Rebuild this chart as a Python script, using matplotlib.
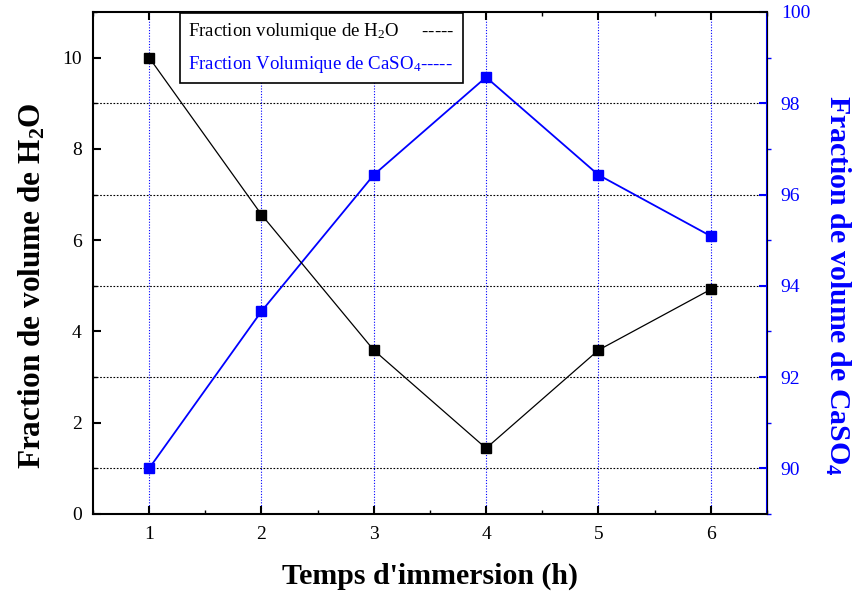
import matplotlib
matplotlib.use("Agg")
import matplotlib.pyplot as plt
from matplotlib.ticker import MultipleLocator

# data
hours = [1, 2, 3, 4, 5, 6]
h2o_frac = [10.0, 6.56, 3.59, 1.44, 3.59, 4.92]
caso4_frac = [90.0, 93.44, 96.43, 98.57, 96.43, 95.09]

plt.rcParams["font.family"] = ["Liberation Serif", "DejaVu Serif"]
plt.rcParams["mathtext.fontset"] = "custom"
plt.rcParams["mathtext.rm"] = "Liberation Serif"
plt.rcParams["mathtext.it"] = "Liberation Serif:italic"
plt.rcParams["mathtext.bf"] = "Liberation Serif:bold"

fig = plt.figure(figsize=(8.53, 5.98), dpi=100)
ax = fig.add_axes([0.109, 0.1405, 0.790, 0.8395])
ax2 = ax.twinx()

# vertical blue grid, horizontal black grid from right axis
for x in hours:
    ax.axvline(x, color="blue", linestyle=(0, (1, 1.5)), linewidth=0.8, zorder=0)
for y in [90, 92, 94, 96, 98]:
    ax2.axhline(y, color="black", linestyle=(0, (1.5, 1.5)), linewidth=0.8, zorder=0)

ax.plot(hours, h2o_frac, color="black", linewidth=0.9, marker="s",
        markersize=7, zorder=3)
ax2.plot(hours, caso4_frac, color="blue", linewidth=1.3, marker="s",
         markersize=7, zorder=3)

ax.set_xlim(0.5, 6.5)
ax.set_ylim(0, 11)
ax2.set_ylim(89, 100)

ax.xaxis.set_major_locator(MultipleLocator(1))
ax.xaxis.set_minor_locator(MultipleLocator(0.5))
ax.yaxis.set_major_locator(MultipleLocator(2))
ax.yaxis.set_minor_locator(MultipleLocator(1))
ax2.yaxis.set_major_locator(MultipleLocator(2))
ax2.yaxis.set_minor_locator(MultipleLocator(1))

ax.tick_params(axis="both", which="major", direction="in", length=6, width=1.5,
               labelsize=14, top=True, pad=8)
ax.tick_params(axis="both", which="minor", direction="in", length=3, width=1,
               top=True)
ax.tick_params(axis="x", which="major", pad=9)
ax2.tick_params(axis="y", which="major", direction="in", length=6, width=1.5,
                labelsize=14, colors="blue", pad=10)
ax2.tick_params(axis="y", which="minor", direction="out", length=3, width=1,
                colors="blue")

for side in ["left", "bottom", "top"]:
    ax.spines[side].set_linewidth(1.5)
ax2.spines["right"].set_color("blue")
ax2.spines["right"].set_linewidth(1.5)
for side in ["left", "bottom", "top"]:
    ax2.spines[side].set_visible(False)

ax.set_xlabel("Temps d'immersion (h)", fontsize=21.5, fontweight="bold", labelpad=14)
ax.set_ylabel(r"Fraction de volume de H$_\mathbf{2}$O", fontsize=22.5,
              fontweight="bold", va="center")
ax.yaxis.set_label_coords(-0.09, 0.455)
ax2.set_ylabel(r"Fraction de volume de CaSO$_\mathbf{4}$", fontsize=21.5,
               fontweight="bold", color="blue", rotation=270, va="center")
ax2.yaxis.set_label_coords(1.105, 0.455)

# legend drawn as text entries with dashes, as in the original
h1, = ax.plot([], [], alpha=0)
h2, = ax.plot([], [], alpha=0)
leg = ax.legend([h1, h2],
                ["Fraction volumique de H$_2$O     -----",
                 "Fraction Volumique de CaSO$_4$-----"],
                loc="upper left", bbox_to_anchor=(0.129, 0.998), handlelength=0,
                handletextpad=0, fontsize=13.6, fancybox=False,
                edgecolor="black", framealpha=1, borderpad=0.45,
                borderaxespad=0, labelspacing=0.6,
                labelcolor=["black", "blue"])
leg.get_frame().set_linewidth(1.2)
leg.set_zorder(10)
ax.set_zorder(ax2.get_zorder() + 1)
ax.patch.set_visible(False)

fig.savefig("out.png", dpi=100)
